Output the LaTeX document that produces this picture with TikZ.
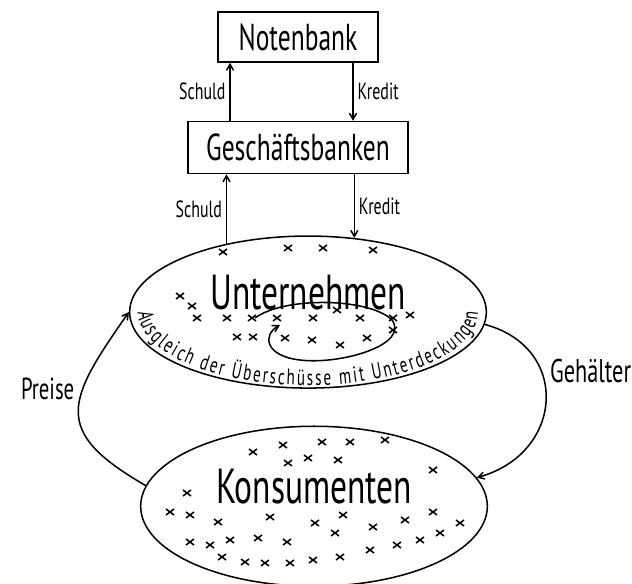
\documentclass[tikz,border=0pt]{standalone}
\usepackage{fontspec}
\newfontfamily\handfont{PT Sans}[FakeStretch=0.68]
\usetikzlibrary{arrows,positioning,shapes.geometric,decorations.text}
\tikzset{
    %Define standard arrow tip
    >=angle 60,
    %Define style for the bank boxes
    bank/.style={
        rectangle,
        draw=black, line width=1.3pt,
        minimum height=1.5cm,
        font=\handfont\fontsize{32}{36}\selectfont},
    %Define style for the sector ellipses
    sektor/.style={
        ellipse,
        draw=black, line width=1.3pt,
        text depth=1.2cm,
        font=\handfont\fontsize{42}{46}\selectfont},
    strom/.style={
        ->,
        draw,
        line width=1.3pt,
        font=\handfont\fontsize{20}{24}\selectfont},
    kreuz/.style={line width=1.3pt}
}

\begin{document}
\begin{tikzpicture}[x=0.03cm, y=-0.03cm, node distance=1.74cm, auto]
    \useasboundingbox (0,0) rectangle (632,584);
    \node[bank, minimum width=4.8cm] (noten) at (298,37) {Notenbank};
    \node[bank, minimum width=6.6cm, minimum height=1.56cm, below=of noten] (gesch) {Geschäftsbanken};
    \node[sektor, minimum width=10.7cm, minimum height=4.56cm, below=1.83cm of gesch, xshift=0.3cm] (unt) {Unternehmen};
    \node[sektor, minimum width=10.4cm, minimum height=4.8cm, below=1.1cm of unt, xshift=0.18cm] (kons) {Konsumenten};
    % Kredite und Schulden
    \path[strom] ([xshift=-2.04cm]gesch.north) -- node {Schuld} ([xshift=-2.04cm]gesch.north |- noten.south);
    \path[strom] ([xshift=1.65cm]gesch.north |- noten.south) -- node {Kredit} ([xshift=1.65cm]gesch.north);
    \path[strom] (unt.140) -- node {Schuld} (unt.140 |- gesch.south);
    \path[strom] (gesch.south -| unt.58) -- node {Kredit} (unt.58);
    % Kreislauf
    \path[strom, font=\handfont\fontsize{26}{30}\selectfont] (kons.173) to[out=150, in=235, looseness=1.6] node[pos=0.55] {Preise} (unt.180);
    \path[strom, font=\handfont\fontsize{28}{32}\selectfont] (unt.-4) to[out=-15, in=15, looseness=1.5] node[pos=0.43] {Gehälter} (kons.10);
    \path[strom] (255,318) .. controls (285,296) and (370,298) .. (392,320)
        .. controls (410,345) and (340,365) .. (300,360)
        .. controls (265,356) and (262,335) .. (280,325);
    \path[decorate, decoration={text along path, text align=fit to path,
        text={|\handfont\fontsize{19}{22}\selectfont|Ausgleich der Überschüsse mit Unterdeckungen}}]
        ([shift={(180:5.1cm and 2.2cm)}]unt.center) arc[start angle=180, end angle=360, x radius=5.1cm, y radius=2.2cm];
    % Kreuze
    \foreach \x/\y in {223/252, 288/248, 323/248, 373/250, 180/296, 192/306, 197/318, 227/318, 252/318,
        277/318, 313/318, 337/310, 360/318, 393/318, 410/315, 237/337, 253/337, 285/338, 312/340,
        340/345, 367/338, 393/330}
        \draw[kreuz] (\x-4,\y-3) -- (\x+4,\y+3) (\x-4,\y+3) -- (\x+4,\y-3);
    \foreach \x/\y in {253/452, 283/445, 322/442, 350/442, 385/440, 288/463, 308/458, 338/460, 433/470,
        187/493, 170/512, 190/515, 218/522, 270/517, 315/523, 343/515, 373/527, 405/520, 433/512,
        190/542, 210/545, 230/540, 258/538, 287/542, 335/533, 222/557, 245/562, 265/563, 290/563,
        313/560, 340/557, 370/550, 397/545, 420/540, 440/533, 460/523}
        \draw[kreuz] (\x-4,\y-3) -- (\x+4,\y+3) (\x-4,\y+3) -- (\x+4,\y-3);
\end{tikzpicture}
\end{document}
